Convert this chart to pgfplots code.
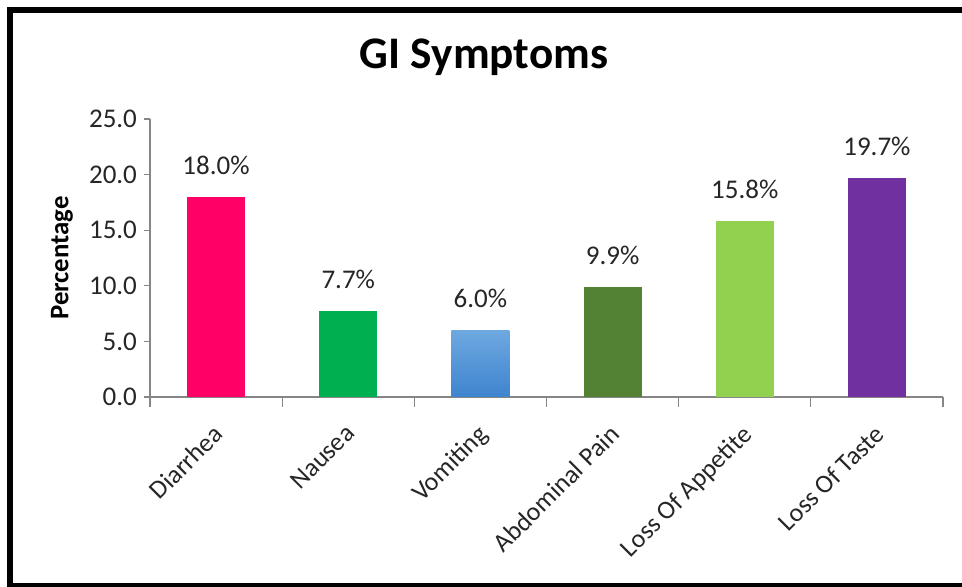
\documentclass[border=0pt]{standalone}
\usepackage{fontspec}
\setmainfont{Carlito}
\usepackage{pgfplots}
\pgfplotsset{compat=1.18}

\definecolor{cDiarrhea}{RGB}{255,0,102}
\definecolor{cNausea}{RGB}{0,176,80}
\definecolor{cVomitingTop}{RGB}{110,168,224}
\definecolor{cVomitingBot}{RGB}{62,132,206}
\definecolor{cAbdominal}{RGB}{84,130,53}
\definecolor{cAppetite}{RGB}{146,208,80}
\definecolor{cTaste}{RGB}{112,48,160}
\definecolor{txt}{RGB}{38,38,38}
\definecolor{axgray}{RGB}{134,134,134}

\begin{document}
\begin{tikzpicture}[x=0.5pt,y=0.5pt]
\begin{axis}[
  anchor=origin,
  scale only axis, width=396.5pt, height=139pt,
  xmin=0, xmax=6, ymin=0, ymax=25,
  axis lines=left, axis line style={-, draw=axgray, line width=0.6pt},
  tick align=outside, major tick length=3pt,
  tick style={draw=axgray, line width=0.6pt},
  ytick={0,5,...,25},
  /pgf/number format/assume math mode=true,
  yticklabel style={/pgf/number format/fixed, /pgf/number format/fixed zerofill, /pgf/number format/precision=1, font=\fontsize{13.5}{16}\selectfont, text=txt},
  xtick={0.5,1.5,...,5.5},
  xticklabels={Diarrhea, Nausea, Vomiting, Abdominal Pain, Loss Of Appetite, Loss Of Taste},
  x tick style={draw=none},
  xticklabel style={rotate=45, anchor=north east, font=\fontsize{13}{16}\selectfont, text=txt, inner sep=0pt, xshift=-8.5pt, yshift=-5.5pt},
  extra x ticks={0,1,...,6},
  extra x tick labels={},
  extra x tick style={x tick style={draw=axgray, line width=0.6pt}, major tick length=5pt},
  ylabel={\textbf{Percentage}},
  ylabel style={at={([xshift=-44pt]axis description cs:0,0.5)}, anchor=center, font=\fontsize{13.4}{16}\selectfont, text=black},
  nodes near coords={\pgfmathprintnumber[fixed, fixed zerofill, precision=1]{\pgfplotspointmeta}\%},
  every node near coord/.append style={font=\fontsize{13.5}{16}\selectfont, text=txt, anchor=south, inner sep=0pt, yshift=11pt},
  clip=false,
]
\addplot[ybar, bar width=29pt, bar shift=0pt, fill=cDiarrhea, draw=none] coordinates {(0.5,18.0)};
\addplot[ybar, bar width=29pt, bar shift=0pt, fill=cNausea, draw=none] coordinates {(1.5,7.7)};
\addplot[ybar, bar width=29pt, bar shift=0pt, top color=cVomitingTop, bottom color=cVomitingBot, draw=none] coordinates {(2.5,6.0)};
\addplot[ybar, bar width=29pt, bar shift=0pt, fill=cAbdominal, draw=none] coordinates {(3.5,9.9)};
\addplot[ybar, bar width=29pt, bar shift=0pt, fill=cAppetite, draw=none] coordinates {(4.5,15.8)};
\addplot[ybar, bar width=29pt, bar shift=0pt, fill=cTaste, draw=none] coordinates {(5.5,19.7)};
\coordinate (O) at (axis cs:0,0);
\end{axis}
% frame (open on the right, where the page ends), title and page size,
% measured from the axis origin
\begin{scope}[shift={(O)}]
  \draw[line width=2.6pt] (812,387) -- (-140,387) -- (-140,-188.5) -- (812,-188.5);
  \node[font=\bfseries\fontsize{22.6}{27}\selectfont, text=black] at (334,340) {GI Symptoms};
  \pgfresetboundingbox
  \useasboundingbox (-150,-190) rectangle (812,397);
\end{scope}
\end{tikzpicture}
\end{document}
